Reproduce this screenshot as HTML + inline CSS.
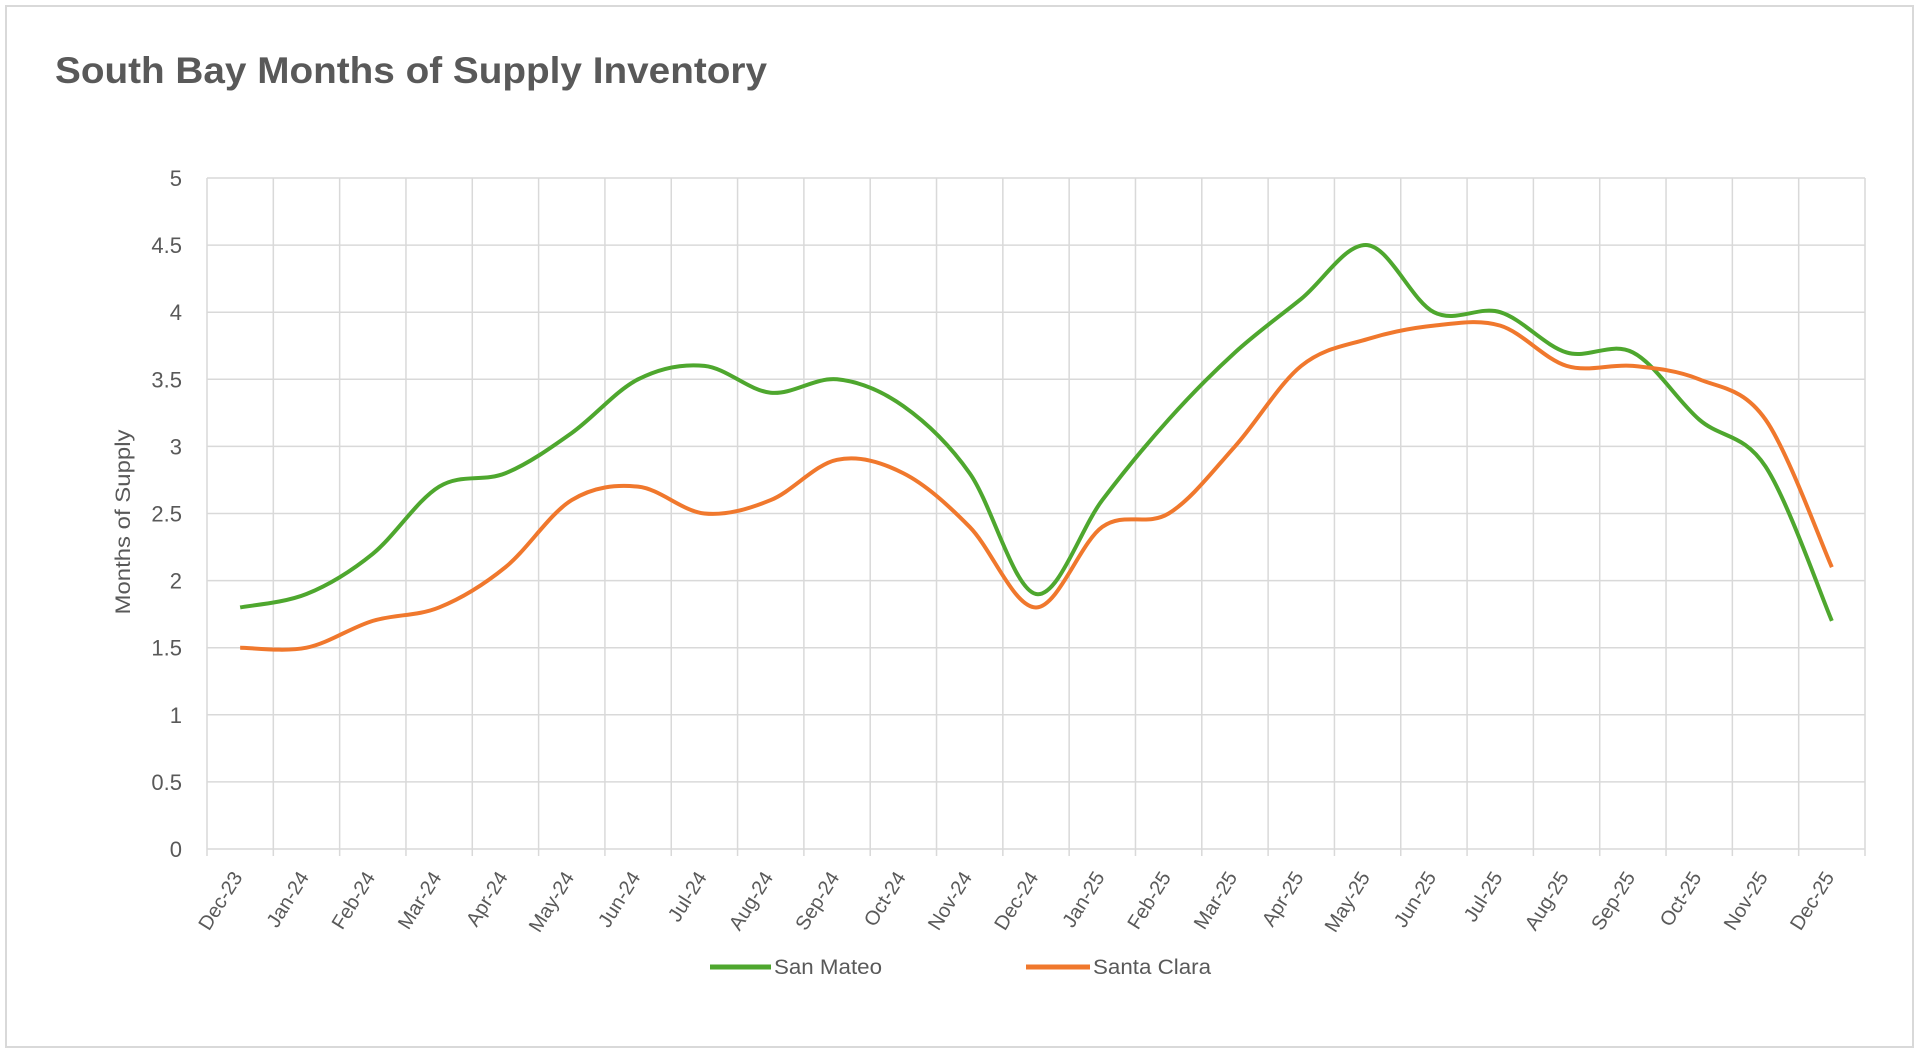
<!DOCTYPE html>
<html><head><meta charset="utf-8"><style>
html,body{margin:0;padding:0;background:#fff;}
svg{display:block;font-family:"Liberation Sans",Arial,sans-serif;}
</style></head><body>
<svg id="chart" width="1920" height="1059" viewBox="0 0 1920 1059">
<rect x="6" y="6" width="1907" height="1041" fill="#fff" stroke="#d9d9d9" stroke-width="2"/>
<text x="55" y="83" font-size="37" font-weight="bold" fill="#595959" textLength="712" lengthAdjust="spacingAndGlyphs">South Bay Months of Supply Inventory</text>
<g id="grid"></g><g id="axes"></g><g id="series"></g>
<text transform="translate(130,522) rotate(-90)" text-anchor="middle" font-size="21" fill="#595959" textLength="185" lengthAdjust="spacingAndGlyphs">Months of Supply</text>
<line x1="710" y1="967" x2="771" y2="967" stroke="#4ea72e" stroke-width="5"/>
<text x="774" y="974" font-size="21" fill="#595959" textLength="108" lengthAdjust="spacingAndGlyphs">San Mateo</text>
<line x1="1026" y1="967" x2="1090" y2="967" stroke="#f0782d" stroke-width="5"/>
<text x="1093" y="974" font-size="21" fill="#595959" textLength="118" lengthAdjust="spacingAndGlyphs">Santa Clara</text>
</svg>
<script>
const categories=["Dec-23","Jan-24","Feb-24","Mar-24","Apr-24","May-24","Jun-24","Jul-24","Aug-24","Sep-24","Oct-24","Nov-24","Dec-24","Jan-25","Feb-25","Mar-25","Apr-25","May-25","Jun-25","Jul-25","Aug-25","Sep-25","Oct-25","Nov-25","Dec-25"];
const sanMateo=[1.8,1.9,2.2,2.7,2.8,3.1,3.5,3.6,3.4,3.5,3.3,2.8,1.9,2.6,3.2,3.7,4.1,4.5,4.0,4.0,3.7,3.7,3.2,2.85,1.7];
const santaClara=[1.5,1.5,1.7,1.8,2.1,2.6,2.7,2.5,2.6,2.9,2.8,2.4,1.8,2.4,2.5,3.0,3.6,3.8,3.9,3.9,3.6,3.6,3.5,3.2,2.1];
const yTicks=["0","0.5","1","1.5","2","2.5","3","3.5","4","4.5","5"];
const NS="http://www.w3.org/2000/svg";
const L=207,R=1865,T=178,B=849,YMAX=5;
const band=(R-L)/categories.length;
const xPos=i=>L+band*(i+0.5);
const yPos=v=>B-(v/YMAX)*(B-T);
function mk(tag,attrs,parent){const e=document.createElementNS(NS,tag);for(const k in attrs)e.setAttribute(k,attrs[k]);parent.appendChild(e);return e;}
const grid=document.getElementById('grid'),axes=document.getElementById('axes'),series=document.getElementById('series');
yTicks.forEach(t=>{const v=parseFloat(t);const y=yPos(v);
 const ln=mk('line',{x1:L,x2:R,y1:y,y2:y,stroke:'#d9d9d9','stroke-width':1.5},grid);
 
 
 const tx=mk('text',{x:182,y:y+8,'text-anchor':'end','font-size':22,fill:'#595959'},axes);
 tx.textContent=t;
 
 
});
for(let i=0;i<=categories.length;i++){const x=L+band*i;
 const ln=mk('line',{x1:x,x2:x,y1:T,y2:B+7,stroke:'#d9d9d9','stroke-width':1.5},grid);
 
 
}
categories.forEach((c,i)=>{const x=xPos(i)+3,y=877;
 const tx=mk('text',{x:0,y:0,transform:`translate(${x},${y}) rotate(-58)`,'text-anchor':'end','font-size':20,fill:'#595959'},axes);
 tx.textContent=c;
 
 
});
function smooth(vals){const p=vals.map((v,i)=>[xPos(i),yPos(v)]);let d=`M${p[0][0]},${p[0][1]}`;
 for(let i=0;i<p.length-1;i++){const p0=p[i-1]||p[i],p1=p[i],p2=p[i+1],p3=p[i+2]||p2;const t=6;
  d+=` C${p1[0]+(p2[0]-p0[0])/t},${p1[1]+(p2[1]-p0[1])/t} ${p2[0]-(p3[0]-p1[0])/t},${p2[1]-(p3[1]-p1[1])/t} ${p2[0]},${p2[1]}`;}
 return d;}
const s1=mk('path',{d:smooth(sanMateo),fill:'none',stroke:'#4ea72e','stroke-width':4,'stroke-linejoin':'round'},series);


const s2=mk('path',{d:smooth(santaClara),fill:'none',stroke:'#f0782d','stroke-width':4,'stroke-linejoin':'round'},series);


</script>
</body></html>
